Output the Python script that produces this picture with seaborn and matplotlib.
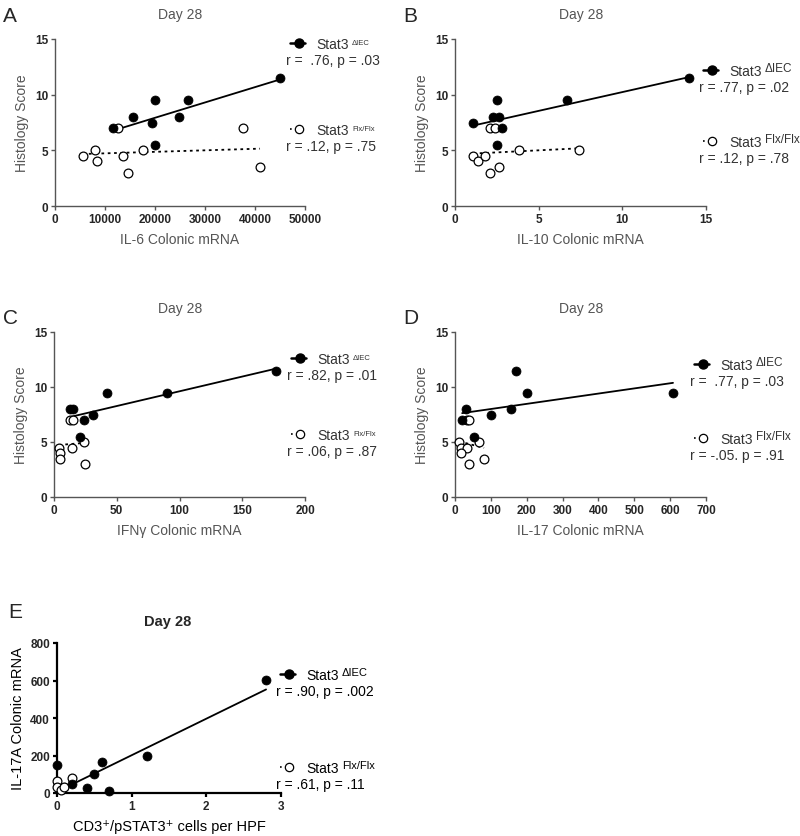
import matplotlib
matplotlib.use("Agg")
import matplotlib.pyplot as plt
import seaborn as sns
import pandas as pd

# values
il6_dIEC_x = [11500, 15500, 19300, 20000, 20000, 24800, 26500, 45000]
il6_dIEC_y = [7, 8, 7.5, 9.5, 5.5, 8, 9.5, 11.5]
il6_flx_x = [5500, 8000, 8300, 12500, 13500, 14600, 17500, 37500, 41000]
il6_flx_y = [4.5, 5, 4, 7, 4.5, 3, 5, 7, 3.5]

il10_dIEC_x = [1.1, 2.3, 2.5, 2.6, 2.8, 2.5, 6.7, 14.0]
il10_dIEC_y = [7.5, 8, 9.5, 8, 7, 5.5, 9.5, 11.5]
il10_flx_x = [1.1, 1.4, 1.8, 2.1, 2.6, 2.1, 2.4, 3.8, 7.4]
il10_flx_y = [4.5, 4, 4.5, 3, 3.5, 7, 7, 5, 5]

ifng_dIEC_x = [12.7, 15, 24, 31, 21, 42, 90, 177]
ifng_dIEC_y = [8, 8, 7, 7.5, 5.5, 9.5, 9.5, 11.5]
ifng_flx_x = [12.7, 15, 4, 4.5, 4.5, 14, 24, 25]
ifng_flx_y = [7, 7, 4.5, 4, 3.5, 4.5, 5, 3]

il17_dIEC_x = [20, 30, 53, 100, 155, 170, 200, 608]
il17_dIEC_y = [7, 8, 5.5, 7.5, 8, 11.5, 9.5, 9.5]
il17_flx_x = [34, 40, 12, 17, 33, 17, 39, 67, 81]
il17_flx_y = [7, 7, 5, 4.5, 4.5, 4, 3, 5, 3.5]

cd3_dIEC_x = [0, 0.2, 0.4, 0.5, 0.6, 0.7, 1.2, 2.8]
cd3_dIEC_y = [150, 50, 25, 100, 165, 10, 195, 605]
cd3_flx_x = [0, 0, 0.05, 0.1, 0.2]
cd3_flx_y = [65, 30, 15, 30, 80]

stats = {
    "A": (" .76, p = .03", ".12, p = .75"),
    "B": (".77, p = .02", ".12, p = .78"),
    "C": (".82, p = .01", ".06, p = .87"),
    "D": (" .77, p = .03", "-.05. p = .91"),
    "E": (".90, p = .002", ".61, p = .11"),
}

sns.set_theme(style="ticks")
plt.rcParams["font.family"] = ["Liberation Sans", "DejaVu Sans"]

W, H = 800, 837
fig = plt.figure(figsize=(8, 8.37), dpi=100)

GRAY = "#555555"


def fx(px):
    return px / W


def fy(py):
    return 1 - py / H


def legend_block(x, y1, y2, r1, r2, sup_size, color, fs=10):
    # filled group sample
    fig.add_artist(plt.Line2D([fx(x + 4), fx(x + 13), fx(x + 19)], [fy(y1)] * 3, color="black", lw=1.8,
                              marker="o", markersize=6.5, markevery=[1]))
    fig.text(fx(x + 30), fy(y1 + 5), "Stat3", fontsize=fs, color=color)
    fig.text(fx(x + 66), fy(y1 + 1), "ΔIEC", fontsize=sup_size, color=color)
    fig.text(fx(x), fy(y1 + 21), "r = " + r1, fontsize=fs, color=color)
    # open group sample
    fig.add_artist(plt.Line2D([fx(x + 4), fx(x + 13), fx(x + 19)], [fy(y2)] * 3, color="black", lw=1.2,
                              ls=(0, (1, 2)), marker="o", markersize=6, mfc="white", mew=0.9,
                              markevery=[1]))
    fig.text(fx(x + 30), fy(y2 + 5), "Stat3", fontsize=fs, color=color)
    fig.text(fx(x + 66), fy(y2 + 1), "Flx/Flx", fontsize=sup_size, color=color)
    fig.text(fx(x), fy(y2 + 21), "r = " + r2, fontsize=fs, color=color)


def panel(rect, dx, dy, ox, oy, xlim, xticks, xlabel, ylim, yticks, ylabel, bold_style=False):
    ax = fig.add_axes(rect)
    d1 = pd.DataFrame({"x": dx, "y": dy})
    d2 = pd.DataFrame({"x": ox, "y": oy})
    sns.regplot(data=d1, x="x", y="y", ax=ax, ci=None, scatter=False,
                line_kws=dict(color="black", lw=1.3))
    sns.regplot(data=d2, x="x", y="y", ax=ax, ci=None, scatter=False,
                line_kws=dict(color="black", lw=1.3, ls=(0, (1.5, 2))))
    sns.scatterplot(data=d2, x="x", y="y", ax=ax, color="white", edgecolor="black",
                    linewidth=0.9, s=40, zorder=3, clip_on=False)
    sns.scatterplot(data=d1, x="x", y="y", ax=ax, color="black", edgecolor="black",
                    s=42, zorder=4, clip_on=False)
    ax.set_xlim(*xlim)
    ax.set_ylim(*ylim)
    ax.set_xticks(xticks)
    ax.set_yticks(yticks)
    sns.despine(ax=ax)
    spine_c = "black" if bold_style else GRAY
    lw = 1.6 if bold_style else 1.0
    for s in ("left", "bottom"):
        ax.spines[s].set_color(spine_c)
        ax.spines[s].set_linewidth(lw)
    ax.tick_params(direction="out", length=3, width=lw, color=spine_c, labelsize=8.5, pad=2)
    for t in ax.get_xticklabels() + ax.get_yticklabels():
        t.set_fontweight("bold")
    lab_c = "black" if bold_style else GRAY
    lab_fs = 10.5 if bold_style else 10
    ax.set_xlabel(xlabel, fontsize=lab_fs, color=lab_c, labelpad=5)
    ax.set_ylabel(ylabel, fontsize=lab_fs, color=lab_c, labelpad=4)
    return ax


# Panel A
panel([fx(55), fy(207), fx(250), 167 / H], il6_dIEC_x, il6_dIEC_y, il6_flx_x, il6_flx_y,
      (0, 50000), [0, 10000, 20000, 30000, 40000, 50000], "IL-6 Colonic mRNA",
      (0, 15), [0, 5, 10, 15], "Histology Score")
fig.text(fx(180), fy(15), "Day 28", fontsize=10, color=GRAY, ha="center", va="center")
fig.text(fx(3), fy(17), "A", fontsize=15, va="center")
legend_block(286, 44, 130, stats["A"][0], stats["A"][1], 5.5, "#333333")

# Panel B
panel([fx(455), fy(207), fx(251), 167 / H], il10_dIEC_x, il10_dIEC_y, il10_flx_x, il10_flx_y,
      (0, 15), [0, 5, 10, 15], "IL-10 Colonic mRNA",
      (0, 15), [0, 5, 10, 15], "Histology Score")
fig.text(fx(581), fy(15), "Day 28", fontsize=10, color=GRAY, ha="center", va="center")
fig.text(fx(403), fy(17), "B", fontsize=15, va="center")
legend_block(699, 71, 142, stats["B"][0], stats["B"][1], 8.5, "#333333")

# Panel C
panel([fx(54), fy(498), fx(251), 165 / H], ifng_dIEC_x, ifng_dIEC_y, ifng_flx_x, ifng_flx_y,
      (0, 200), [0, 50, 100, 150, 200], "IFNγ Colonic mRNA",
      (0, 15), [0, 5, 10, 15], "Histology Score")
fig.text(fx(180), fy(309), "Day 28", fontsize=10, color=GRAY, ha="center", va="center")
fig.text(fx(3), fy(318), "C", fontsize=15, va="center")
legend_block(287, 359, 435, stats["C"][0], stats["C"][1], 5.5, "#333333")

# Panel D
panel([fx(455), fy(498), fx(251), 165 / H], il17_dIEC_x, il17_dIEC_y, il17_flx_x, il17_flx_y,
      (0, 700), [0, 100, 200, 300, 400, 500, 600, 700], "IL-17 Colonic mRNA",
      (0, 15), [0, 5, 10, 15], "Histology Score")
fig.text(fx(581), fy(309), "Day 28", fontsize=10, color=GRAY, ha="center", va="center")
fig.text(fx(403), fy(318), "D", fontsize=15, va="center")
legend_block(690, 365, 439, stats["D"][0], stats["D"][1], 8.5, "#333333")

# Panel E
panel([fx(57), fy(794), fx(224), 150 / H], cd3_dIEC_x, cd3_dIEC_y, cd3_flx_x, cd3_flx_y,
      (0, 3), [0, 1, 2, 3], "CD3⁺/pSTAT3⁺ cells per HPF",
      (0, 800), [0, 200, 400, 600, 800], "IL-17A Colonic mRNA", bold_style=True)
fig.text(fx(168), fy(622), "Day 28", fontsize=10.5, fontweight="bold", ha="center", va="center")
fig.text(fx(8), fy(613), "E", fontsize=15, va="center")
legend_block(276, 675, 768, stats["E"][0], stats["E"][1], 8, "black")

fig.savefig("out.png", dpi=100)
